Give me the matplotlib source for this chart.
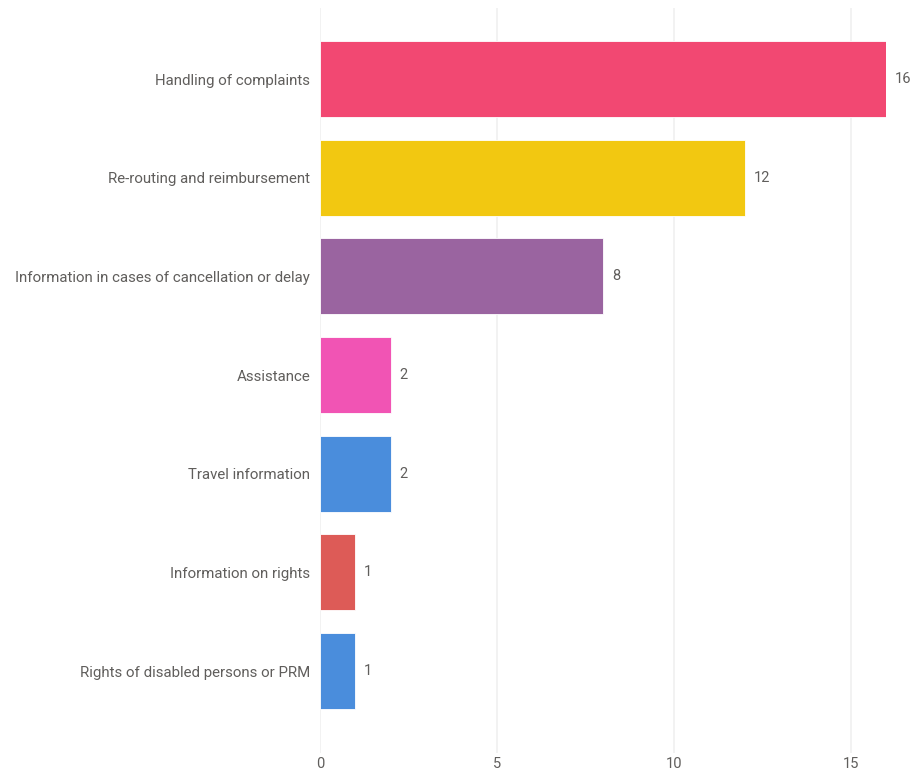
import matplotlib.pyplot as plt
import numpy as np

categories = ['Handling of complaints',
              'Re-routing and reimbursement',
              'Information in cases of cancellation or delay',
              'Assistance',
              'Travel information',
              'Information on rights',
              'Rights of disabled persons or PRM']
counts = [16, 12, 8, 2, 2, 1, 1]
bar_colors = ['#F24872', '#F2C811', '#9A64A0', '#F154B4', '#4A8DDC', '#DD5B57', '#4A8DDC']
xticks = [0, 5, 10, 15]

plt.rcParams['font.family'] = ['Roboto', 'DejaVu Sans']
text_color = '#605E5C'

fig = plt.figure(figsize=(9.1, 7.74), dpi=100)
ax = fig.add_axes([320 / 910, 1 - 753 / 774, 566 / 910, 745 / 774])

ypos = np.arange(len(categories))
ax.barh(ypos, counts, height=0.77, color=bar_colors, edgecolor='white', linewidth=0.6, zorder=3)

# value labels just right of each bar
for y, v in zip(ypos, counts):
    ax.text(v + 0.25, y, str(v), va='center', ha='left', fontsize=10.5, color=text_color)

ax.set_xlim(0, 16)
ax.set_ylim(6.83, -0.72)
ax.set_yticks(ypos)
ax.set_yticklabels(categories, fontsize=10.8, color=text_color)
ax.set_xticks(xticks)
ax.set_xticklabels([str(t) for t in xticks], fontsize=10.5, color=text_color)
ax.tick_params(axis='both', length=0)
ax.tick_params(axis='y', pad=7)
ax.tick_params(axis='x', pad=3)

ax.grid(axis='x', color='#F0F0F0', linewidth=1.2, zorder=0)
for s in ax.spines.values():
    s.set_visible(False)

fig.savefig('out.png', dpi=100)
